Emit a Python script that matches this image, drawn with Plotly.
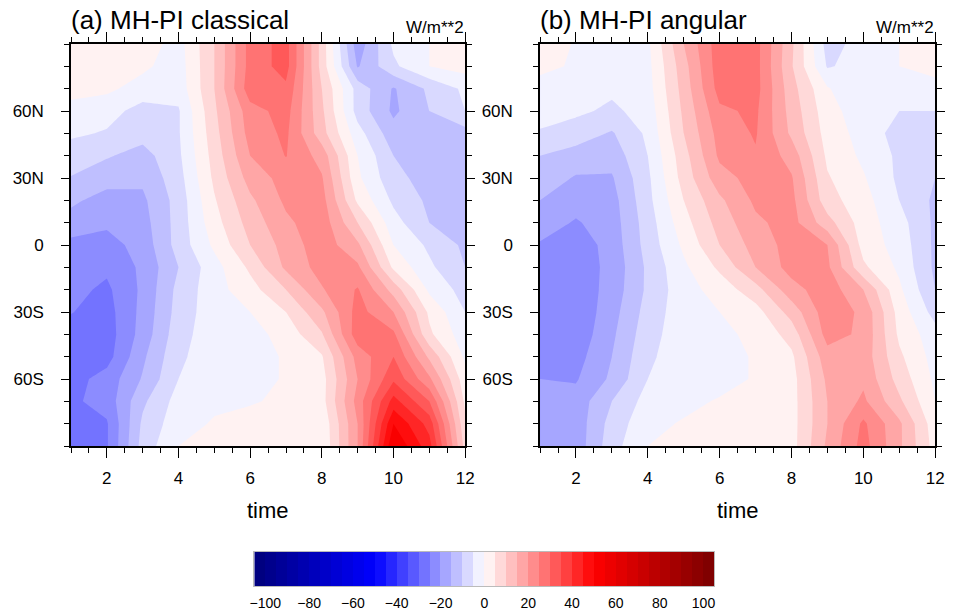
import plotly.graph_objects as go

# ---------------- data ----------------
months = list(range(1, 13))
lats = [90, 80, 70, 60, 50, 40, 30, 20, 10, 0, -10, -20, -30, -40, -50, -60, -70, -80, -90]

# MH-PI insolation anomaly (W/m**2), rows follow `lats`, columns follow `months`
classical = [
    [3, 3, 2.5, -2, 10, 27, 32, 8, -18, -4, 0, 3],
    [3, 2, 1, -2.5, 10, 27, 32, 8, -15.5, -6, 0, 2],
    [2, 1, -2, -3, 10, 28, 29, 10, -7, -15.5, -9, -4],
    [-2, -3, -7, -5.5, 9, 23, 27, 11, -7, -16, -10, -5],
    [-4, -5.5, -8, -5.5, 8, 22, 26, 12, -3, -13, -14, -12],
    [-8, -9.5, -12, -6, 7, 20, 25.2, 18, 0, -10, -14.5, -13],
    [-10.2, -13, -14, -7, 6, 17, 22, 20.5, 1, -8.5, -12, -13],
    [-14, -17, -16, -8, 4.5, 14, 21, 22, 4, -6, -11, -13],
    [-17, -19, -17, -8, 3, 12, 19, 23, 10, -3, -10, -12],
    [-21.5, -22, -18, -8, 1, 10, 17, 23, 16, 0, -6, -11],
    [-23, -24, -19, -10, -2, 6, 16, 22, 21, 4, -4, -10],
    [-23.5, -26, -19, -8.5, -2, 3, 10, 19.5, 25.5, 13, -1, -7],
    [-24.8, -27, -18.5, -8, -2, 0, 5, 14, 27, 20, 4, -5],
    [-27, -27.5, -18, -7, -2, -2, 2, 9.5, 28, 26, 6, -3],
    [-28, -27, -16, -6, -2, -2, 0.5, 4.5, 22, 30, 14, -1],
    [-27, -23, -14.5, -5, -2, -2, 0.5, 3, 20, 34, 21, 2],
    [-26, -23, -11, -3, -1, -0.5, 1, 3, 22, 42, 30, 4],
    [-29, -25.5, -9, -2, 0.5, 2, 2, 1, 20, 50, 38, 6],
    [-30, -25.5, -8, 0, 1.5, 2, 3, 0.5, 20, 55, 42, 8],
]

angular = [
    [2, -0.3, -2, -1, 15, 28, 27, 11, -7, -3, 0, 2],
    [1, -0.5, -2, -1.5, 13, 28, 27, 10.5, -5.5, -3, 0, 2],
    [-1.5, -2, -4, -2, 12, 27, 27, 12, 0.5, -5, -3, -2],
    [-3, -4, -6, -3, 11, 24, 26, 13, 2, -3, -5, -5],
    [-5.5, -7.5, -10.5, -4, 10, 22, 25.5, 14, 3, -2, -7, -8],
    [-10, -12, -13, -5, 8, 21, 24.5, 18, 4, -1, -6, -8],
    [-12, -15.5, -15.5, -6, 7, 18, 22, 20.5, 5.5, 0.5, -6, -10],
    [-15, -18, -17, -6.5, 5, 14, 21, 21.5, 7, 2, -5, -11],
    [-17.5, -20.5, -17.5, -7.5, 3, 12, 19, 22, 12, 2.5, -3, -11],
    [-20.5, -23, -18, -8, 1, 10, 17, 22, 20, 3, -2, -11],
    [-24, -23, -18.5, -9, -1, 6, 15, 22, 21, 6, -1, -11],
    [-24, -23.5, -18, -9, -2, 2, 8, 18, 23, 15, 1, -10],
    [-24, -24, -17, -8, -2, 0, 3, 12, 23, 19, 3, -7],
    [-24, -23.5, -16, -7, -2, -1, 1, 7, 22, 19, 4, -3],
    [-23, -22, -15, -6, -2, -2, 0.5, 4, 18, 18, 6, -2],
    [-20, -20.5, -14, -5, -2, -2, 0.5, 3, 16, 19, 8, -1],
    [-19, -18, -10, -3, -1.5, 0.5, 2, 3, 15, 21, 11, 0],
    [-19, -18, -8, -1.5, 0.5, 2, 2, 3, 15, 26, 16, 2],
    [-19, -18, -7, 0, 1.5, 2, 2, 3, 16, 27, 16, 3],
]

panel_titles = ["(a) MH-PI classical", "(b) MH-PI angular"]
units = "W/m**2"
x_title = "time"
time_ticks = [2, 4, 6, 8, 10, 12]
lat_tickvals = [60, 30, 0, -30, -60]
lat_ticktext = ["60N", "30N", "0", "30S", "60S"]
level_start, level_end, level_step = -100, 100, 5
colorbar_ticks = [-100, -80, -60, -40, -20, 0, 20, 40, 60, 80, 100]

# ---------------- colour map (blue - white - red, 42 bands) ----------------
n_bands = int((level_end - level_start) / level_step) + 2
band_mids = [level_start - level_step / 2 + level_step * i for i in range(n_bands)]


def b2r(m):
    if m < -50:
        b = 255 - (-50 - m) / 52.5 * 127
        return f"rgb(0,0,{round(b)})"
    if m < 0:
        f = (m + 50) / 50
        v = round(255 * f)
        return f"rgb({v},{v},255)"
    if m <= 50:
        f = 1 - m / 50
        v = round(255 * f)
        return f"rgb(255,{v},{v})"
    r = 255 - (m - 50) / 52.5 * 127
    return f"rgb({round(r)},0,0)"


colors = [b2r(m) for m in band_mids]
colorscale = [[i / (n_bands - 1), c] for i, c in enumerate(colors)]

# ---------------- figure ----------------
W, H = 957, 611
FONT = "Liberation Sans, Arial, Helvetica, sans-serif"

panels = [
    dict(x0=67, x1=467, data=classical),
    dict(x0=543, x1=944, data=angular),
]
top_px, bot_px = 44, 446

fig = go.Figure()

for k, p in enumerate(panels):
    xa = "x" if k == 0 else "x2"
    ya = "y" if k == 0 else "y2"
    fig.add_trace(go.Contour(
        x=months, y=lats[::-1], z=p["data"][::-1],
        xaxis=xa, yaxis=ya,
        colorscale=colorscale, showscale=False,
        autocontour=False,
        contours=dict(start=level_start, end=level_end, size=level_step,
                      coloring="fill", showlines=False),
        line=dict(width=0, smoothing=0),
        hoverinfo="skip",
    ))

# colorbar as a heatmap strip
fig.add_trace(go.Heatmap(
    x=band_mids, y=[0], z=[band_mids],
    xaxis="x3", yaxis="y3",
    colorscale=colorscale, zmin=band_mids[0], zmax=band_mids[-1],
    showscale=False, hoverinfo="skip",
))

common = dict(showline=True, linecolor="black", linewidth=1.6, mirror="ticks",
              ticks="outside", tickcolor="black", tickwidth=1.3,
              showgrid=False, zeroline=False,
              tickfont=dict(family=FONT, size=17, color="black"))

layout = dict(
    width=W, height=H, autosize=False, margin=dict(l=0, r=0, t=0, b=0, pad=0),
    paper_bgcolor="white", plot_bgcolor="white",
    font=dict(family=FONT, color="black"),
    showlegend=False,
)

for k, p in enumerate(panels):
    sx = "" if k == 0 else "2"
    layout["xaxis" + sx] = dict(
        common, domain=[p["x0"] / W, p["x1"] / W], range=[1, 12],
        anchor="y" + sx, tickvals=time_ticks, ticklen=10,
        ticklabelstandoff=6,
        minor=dict(tickmode="linear", tick0=1, dtick=0.5, ticks="outside",
                   ticklen=5, tickwidth=1.3, tickcolor="black", showgrid=False),
    )
    layout["yaxis" + sx] = dict(
        common, domain=[1 - bot_px / H, 1 - top_px / H], range=[-90, 90],
        anchor="x" + sx, tickvals=lat_tickvals, ticktext=lat_ticktext, ticklen=8,
        ticklabelstandoff=14,
        minor=dict(tickmode="linear", tick0=-90, dtick=10, ticks="outside",
                   ticklen=5, tickwidth=1.3, tickcolor="black", showgrid=False),
    )

layout["xaxis3"] = dict(domain=[253 / W, 720 / W], range=[-105, 105], anchor="y3",
                        tickvals=colorbar_ticks, ticks="", showgrid=False, zeroline=False,
                        showline=True, linecolor="#bbbbbb", linewidth=1, mirror=True,
                        tickfont=dict(family=FONT, size=14, color="black"),
                        ticklabelstandoff=4)
layout["yaxis3"] = dict(domain=[1 - 586 / H, 1 - 552 / H], range=[-0.5, 0.5], anchor="x3",
                        showticklabels=False, ticks="", showgrid=False, zeroline=False,
                        showline=True, linecolor="#bbbbbb", linewidth=1, mirror=True)

annotations = []
for k, p in enumerate(panels):
    annotations.append(dict(text=panel_titles[k], xref="paper", yref="paper",
                            x=(p["x0"] - 2) / W, y=1 - 20 / H, xanchor="left", yanchor="middle",
                            showarrow=False, font=dict(family=FONT, size=26, color="black")))
    annotations.append(dict(text=units, xref="paper", yref="paper",
                            x=(p["x1"] + 1) / W, y=1 - 27 / H, xanchor="right", yanchor="middle",
                            showarrow=False, font=dict(family=FONT, size=17, color="black")))
    annotations.append(dict(text=x_title, xref="paper", yref="paper",
                            x=(p["x0"] + p["x1"]) / 2 / W, y=1 - 510 / H,
                            xanchor="center", yanchor="middle",
                            showarrow=False, font=dict(family=FONT, size=22, color="black")))
layout["annotations"] = annotations

fig.update_layout(**layout)
fig.write_html("out.html", config={"responsive": False})
